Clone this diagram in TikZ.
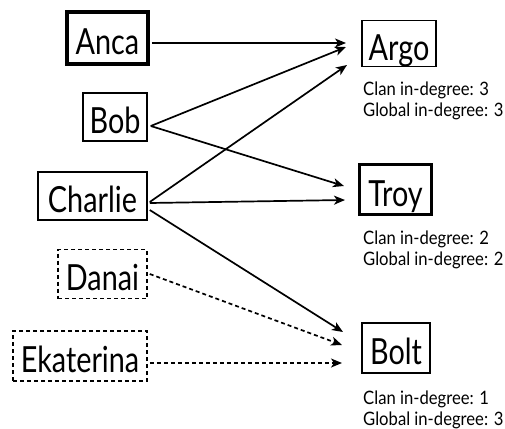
\documentclass[tikz,border=0pt]{standalone}
\usepackage{fontspec}
\setmainfont{Lato}[FakeStretch=0.8]
\newfontfamily\labelfont{Lato}[FakeStretch=0.9]
\usetikzlibrary{arrows.meta}
\begin{document}
\begin{tikzpicture}[x=1pt,y=-1pt,
  person/.style={draw, line width=1.5pt, inner sep=0pt, text height=33pt, text depth=0pt,
    font=\fontsize{36}{40}\selectfont},
  heavy/.style={line width=3.5pt},
  ghost/.style={dash pattern=on 4pt off 3pt},
  info/.style={anchor=base west, inner sep=0pt, font=\labelfont\fontsize{18.5}{20}\selectfont},
  link/.style={line width=1.7pt, -{Stealth[length=11pt,width=9pt,inset=3pt]}},
]
\useasboundingbox (0,0) rectangle (505,428);

% sources
\node[person, heavy, minimum width=81pt, minimum height=52pt] (anca) at (107.5,38) {Anca};
\node[person, minimum width=64pt, minimum height=48pt] (bob) at (115,117) {Bob};
\node[person, minimum width=109pt, minimum height=48pt] (charlie) at (92.5,196) {Charlie};
\node[person, ghost, minimum width=89pt, minimum height=49pt] (danai) at (102.5,274) {Danai};
\node[person, ghost, minimum width=134pt, minimum height=50pt] (ekaterina) at (80,356) {Ekaterina};

% targets
\node[person, minimum width=74pt, minimum height=46pt] (argo) at (399,43.5) {Argo};
\node[person, heavy, minimum width=72pt, minimum height=50pt] (troy) at (395.5,189.5) {Troy};
\node[person, minimum width=68pt, minimum height=50pt] (bolt) at (396,348) {Bolt};

% labels
\node[info] (argoclan) at (363,95) {Clan in-degree: 3};
\node[info] (argoglobal) at (363,116) {Global in-degree: 3};
\node[info] (troyclan) at (363,244) {Clan in-degree: 2};
\node[info] (troyglobal) at (363,265) {Global in-degree: 2};
\node[info] (boltclan) at (363,404) {Clan in-degree: 1};
\node[info] (boltglobal) at (363,425) {Global in-degree: 3};

% arrow tips
\coordinate (argo1) at (346,43);
\coordinate (argo2) at (346,47);
\coordinate (argo3) at (347,65);
\coordinate (troy1) at (344,186);
\coordinate (troy2) at (345,200);
\coordinate (bolt1) at (343,332);
\coordinate (bolt2) at (342,345);
\coordinate (bolt3) at (342,363);

% connectors
\draw[link] ([xshift=2pt,yshift=-5pt]anca.east) -- (argo1);
\draw[link] ([xshift=3pt,yshift=-9pt]bob.east) -- (argo2);
\draw[link] ([xshift=3pt,yshift=-9pt]bob.east) -- (troy1);
\draw[link] ([xshift=2pt,yshift=-6pt]charlie.east) -- (argo3);
\draw[link] ([xshift=2pt,yshift=-7pt]charlie.east) -- (troy2);
\draw[link] ([xshift=2pt,yshift=-14pt]charlie.east) -- (bolt1);
\draw[link, ghost] ([xshift=2pt]danai.east) -- (bolt2);
\draw[link, ghost] ([xshift=2pt,yshift=-7pt]ekaterina.east) -- (bolt3);
\end{tikzpicture}
\end{document}
